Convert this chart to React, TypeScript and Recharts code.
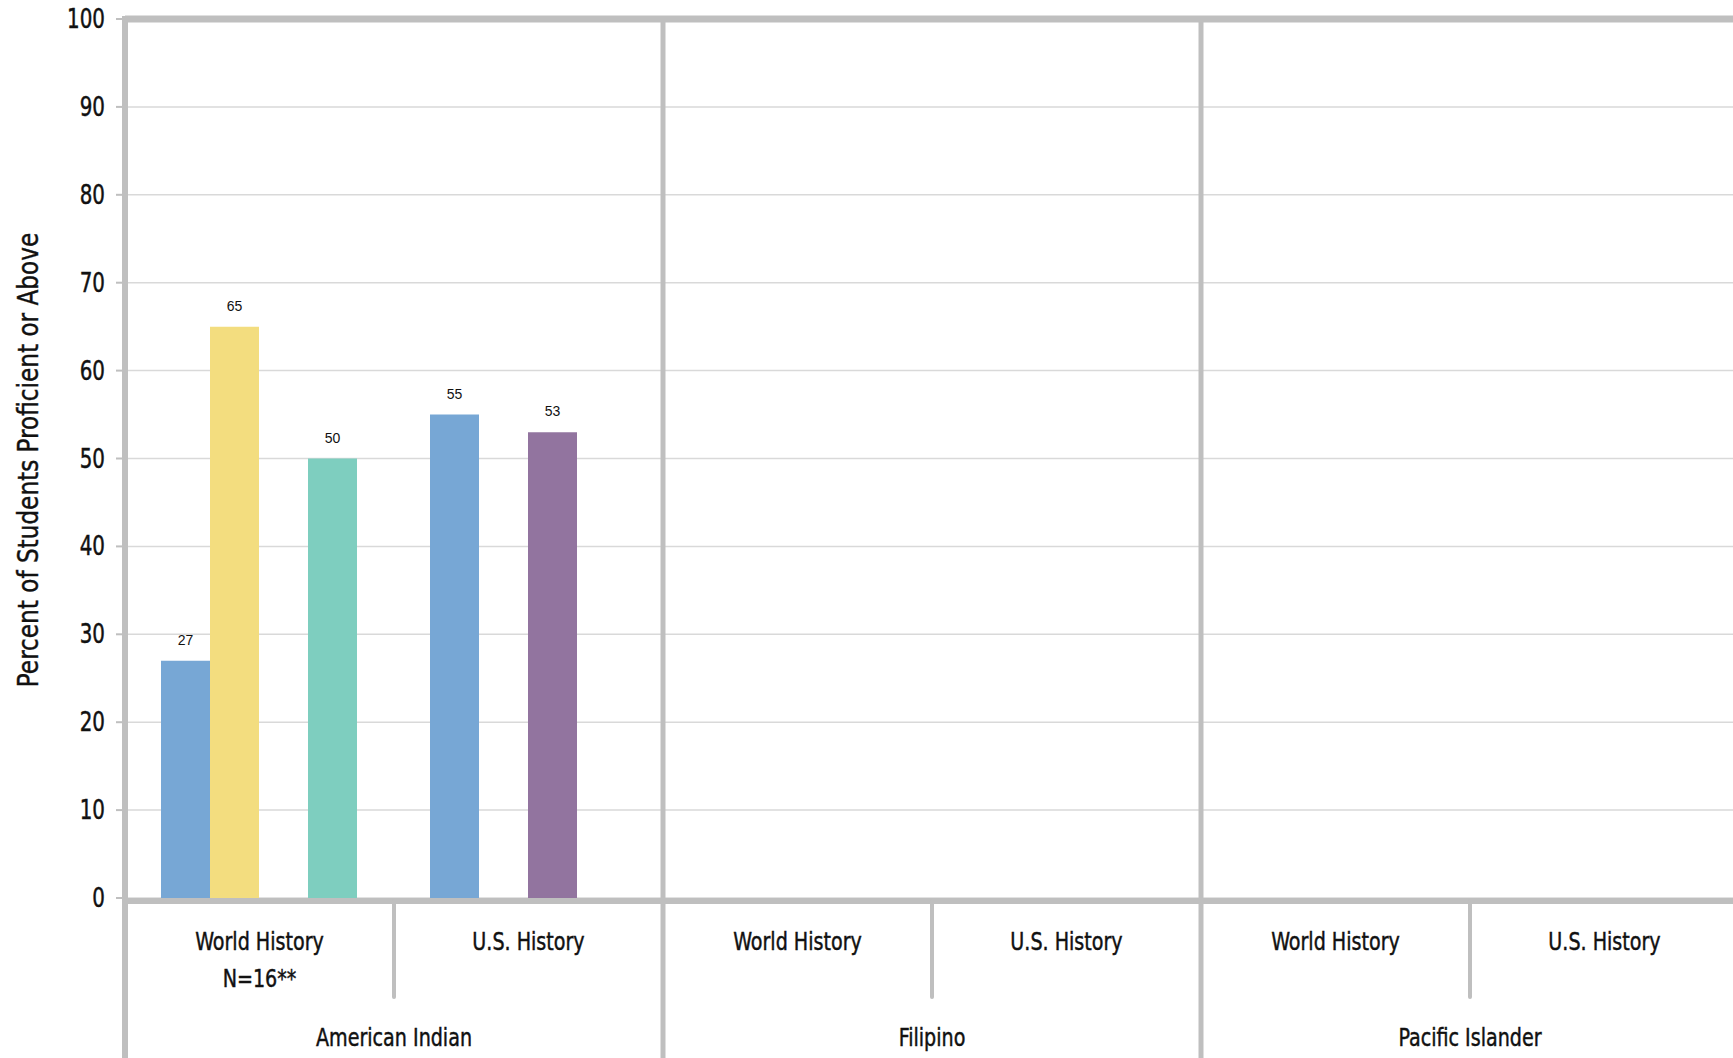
import { Bar, BarChart, CartesianGrid, LabelList, ReferenceLine, XAxis, YAxis } from 'recharts';

// categories
const groups = ['American Indian', 'Filipino', 'Pacific Islander'];
const subjects = ['World History', 'U.S. History'];
const notes = ['N=16**', '', '', '', '', ''];

// series values, one per category (null = no bar)
const seriesBlue = [27, 55, null, null, null, null];
const seriesYellow = [65, null, null, null, null, null];
const seriesPurple = [null, 53, null, null, null, null];
const seriesTeal = [50, null, null, null, null, null];

const yTicks = [0, 10, 20, 30, 40, 50, 60, 70, 80, 90, 100];

const CHART_W = 1739;
const CHART_H = 1058;
const TOP = 19;
const Y_AXIS_W = 125;
const X_AXIS_H = 160;
const FRAME = '#BFBFBF';
const NARROW = "'DejaVu Sans Condensed', 'Liberation Sans Narrow', Roboto, sans-serif";
const SQUEEZE = 0.85;

const data = groups.flatMap((group, gi) =>
  subjects.map((subject, si) => {
    const i = gi * subjects.length + si;
    return {
      key: `${group}|${subject}`,
      group,
      subject,
      note: notes[i],
      blue: seriesBlue[i],
      yellow: seriesYellow[i],
      purple: seriesPurple[i],
      teal: seriesTeal[i],
    };
  }),
);

const band = (CHART_W - Y_AXIS_W) / data.length;
const plotH = CHART_H - TOP - X_AXIS_H;

function NarrowText({
  x,
  y,
  anchor = 'middle',
  size = 25,
  children,
}: {
  x: number;
  y: number;
  anchor?: 'start' | 'middle' | 'end';
  size?: number;
  children: any;
}) {
  return (
    <text
      transform={`translate(${x} ${y}) scale(${SQUEEZE} 1)`}
      x={0}
      y={0}
      textAnchor={anchor}
      fontFamily={NARROW}
      fontSize={size}
      fill="#111"
      stroke="#111"
      strokeWidth={0.45}
    >
      {children}
    </text>
  );
}

function CategoryTick(props: any) {
  const { x, y, index } = props;
  const d = data[index];
  if (!d) return null;
  const half = band / 2;
  const right = x + half;
  const endOfGroup = index % subjects.length === subjects.length - 1;
  return (
    <g>
      {index === 0 && (
        <line x1={x - half} x2={x - half} y1={y - plotH - 3} y2={y + X_AXIS_H} stroke={FRAME} strokeWidth={6} />
      )}
      <line x1={x - half} x2={right} y1={y + 3} y2={y + 3} stroke={FRAME} strokeWidth={6} />
      {endOfGroup ? (
        <line x1={right} x2={right} y1={y - plotH} y2={y + X_AXIS_H} stroke={FRAME} strokeWidth={5} />
      ) : (
        <line x1={right} x2={right} y1={y + 3} y2={y + 99} stroke={FRAME} strokeWidth={4} strokeLinecap="round" />
      )}
      <NarrowText x={x} y={y + 52}>
        {d.subject}
      </NarrowText>
      {d.note && (
        <NarrowText x={x} y={y + 89}>
          {d.note}
        </NarrowText>
      )}
      {!endOfGroup && (
        <NarrowText x={right} y={y + 148}>
          {d.group}
        </NarrowText>
      )}
    </g>
  );
}

function ValueTick(props: any) {
  const { x, y, payload } = props;
  return (
    <NarrowText x={x} y={y + 9} anchor="end" size={26}>
      {payload.value}
    </NarrowText>
  );
}

function ValueLabel(props: any) {
  const { x, y, width, value } = props;
  if (value == null) return null;
  return (
    <text
      x={Number(x) + Number(width) / 2}
      y={Number(y) - 16}
      textAnchor="middle"
      fontFamily="'Liberation Sans', Arial, sans-serif"
      fontSize={14}
      fill="#111"
    >
      {value}
    </text>
  );
}

const seriesDefs = [
  { key: 'blue', color: '#77A7D5' },
  { key: 'yellow', color: '#F3DD7F' },
  { key: 'purple', color: '#92749F' },
  { key: 'teal', color: '#7ECEBF' },
];

export default function App() {
  return (
    <div
      style={{
        position: 'absolute',
        left: 0,
        top: 0,
        width: 1733,
        height: CHART_H,
        overflow: 'hidden',
        background: '#fff',
      }}
    >
      <BarChart
        width={CHART_W}
        height={CHART_H}
        data={data}
        margin={{ top: TOP, right: 0, bottom: 0, left: 0 }}
        barCategoryGap={36}
        barGap={0}
      >
        <CartesianGrid vertical={false} stroke="#D9D9D9" strokeWidth={1.5} />
        <XAxis
          dataKey="key"
          height={X_AXIS_H}
          interval={0}
          tickLine={false}
          axisLine={false}
          tickSize={0}
          tickMargin={0}
          tick={(p: any) => <CategoryTick {...p} />}
        />
        <YAxis
          width={Y_AXIS_W}
          domain={[0, 100]}
          ticks={yTicks}
          interval={0}
          axisLine={false}
          tickLine={{ stroke: FRAME, strokeWidth: 2 }}
          tickSize={9}
          tickMargin={11}
          tick={(p: any) => <ValueTick {...p} />}
        />
        <ReferenceLine y={100} stroke={FRAME} strokeWidth={7} />
        {seriesDefs.map((s) => (
          <Bar key={s.key} dataKey={s.key} fill={s.color} isAnimationActive={false}>
            <LabelList dataKey={s.key} content={<ValueLabel />} />
          </Bar>
        ))}
      </BarChart>
      <div
        style={{
          position: 'absolute',
          left: 28,
          top: 460,
          transform: 'translate(-50%, -50%) rotate(-90deg) scaleX(0.92)',
          whiteSpace: 'nowrap',
          fontFamily: NARROW,
          fontSize: 28,
          color: '#111',
          WebkitTextStroke: '0.4px #111',
        }}
      >
        Percent of Students Proficient or Above
      </div>
    </div>
  );
}
